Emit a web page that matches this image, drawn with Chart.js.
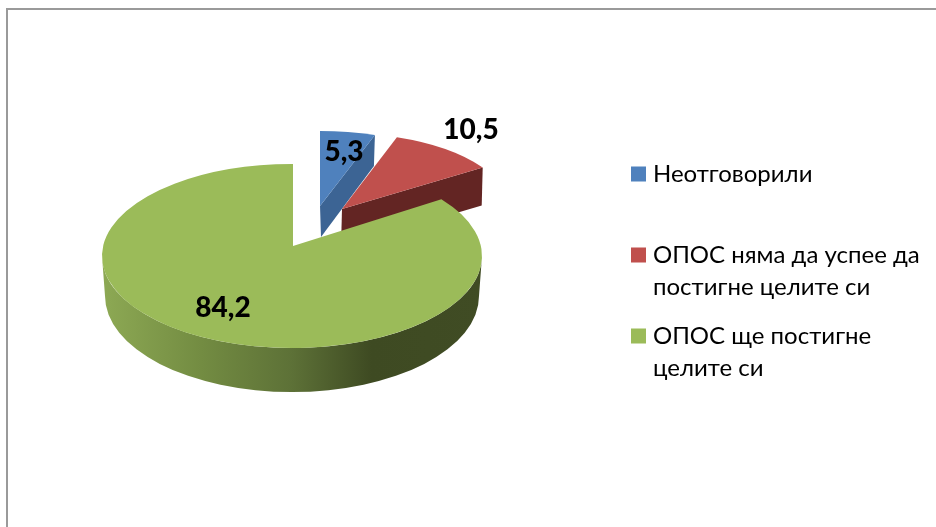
<!DOCTYPE html>
<html lang="bg">
<head>
<meta charset="utf-8">
<style>
html,body{margin:0;padding:0;background:#fff;overflow:hidden}
#frame{position:absolute;left:6px;top:8px;width:930px;height:519px;border-top:2px solid #9a9a9a;border-left:2px solid #9a9a9a;box-sizing:border-box}
canvas{position:absolute;left:0;top:0}
</style>
<script src="https://cdn.jsdelivr.net/npm/chart.js@4/dist/chart.umd.js"></script>
</head>
<body>
<div id="frame"></div>
<canvas id="c" width="936" height="527"></canvas>
<script>
const categories = [
  ['Неотговорили', ''],
  ['ОПОС няма да успее да', 'постигне целите си'],
  ['ОПОС ще постигне', 'целите си']
];
const values = [5.3, 10.5, 84.2];
const colors = ['#4F81BD', '#C0504D', '#9BBB59'];
const sideColors = ['#3C6494', '#632523', null];

const FONT = 'Lato, Carlito, "Open Sans", sans-serif';
const TILT = 92 / 190;
const PIE = {left: 102, right: 482, top: 66, bottom: 446};
const LEGEND = {left: 619, top: 145};
/* each slice: apex offset from the pie centre, ellipse centre offset, ellipse radii factor, depth, lean of the lower apex */
const SLICES = [
  {ax: 28, ay: -50, ex: 28, ey: -50, rx: 168 / 190, ry: 75 / 92, depth: 31, lean: 1},
  {ax: 50, ay: -47, ex: 50, ey: -47, rx: 168 / 190, ry: 76 / 92, depth: 38, lean: -1},
  {ax: 1, ay: -10, ex: 0, ey: 0, rx: 1, ry: 1, depth: 40, lean: 0}
];
const LABEL_POS = [{x: 52, y: -104}, {x: 179, y: -126}, {x: -69, y: 52}];

function rayPoint(ax, ay, cx, cy, rx, ry, angle) {
  // where the ray from the apex at the slice angle meets the rim ellipse
  const dx = Math.cos(angle) * rx, dy = Math.sin(angle) * ry;
  const ox = ax - cx, oy = ay - cy;
  const A = dx * dx / (rx * rx) + dy * dy / (ry * ry);
  const B = 2 * (ox * dx / (rx * rx) + oy * dy / (ry * ry));
  const C = ox * ox / (rx * rx) + oy * oy / (ry * ry) - 1;
  const t = (-B + Math.sqrt(B * B - 4 * A * C)) / (2 * A);
  return {x: ax + dx * t, y: ay + dy * t, theta: Math.atan2((ay + dy * t - cy) / ry, (ax + dx * t - cx) / rx)};
}

const pie3d = {
  id: 'pie3d',
  afterLayout(chart) {
    const w = PIE.right - PIE.left, h = PIE.bottom - PIE.top;
    Object.assign(chart.chartArea, PIE, {width: w, height: h});
    const lg = chart.legend;
    const lw = lg.width, lh = lg.height;
    lg.left = LEGEND.left; lg.right = LEGEND.left + lw;
    lg.top = LEGEND.top; lg.bottom = LEGEND.top + lh;
  },
  beforeDatasetDraw(chart, args) {
    const ctx = chart.ctx;
    const arcs = args.meta.data;
    arcs.forEach((arc, i) => {
      const s = SLICES[i];
      const R = arc.outerRadius;
      const ax = arc.x + s.ax, ay = arc.y + s.ay;
      const cx = arc.x + s.ex, cy = arc.y + s.ey;
      const rx = R * s.rx, ry = R * TILT * s.ry;
      const p0 = rayPoint(ax, ay, cx, cy, rx, ry, arc.startAngle);
      const p1 = rayPoint(ax, ay, cx, cy, rx, ry, arc.endAngle);
      ctx.save();
      if (sideColors[i]) {
        // cut face seen at the slice's end angle
        ctx.fillStyle = sideColors[i];
        ctx.beginPath();
        ctx.moveTo(ax, ay);
        ctx.lineTo(p1.x, p1.y);
        ctx.lineTo(p1.x - 1, p1.y + s.depth);
        ctx.lineTo(ax + s.lean, ay + s.depth);
        ctx.closePath();
        ctx.fill();
      } else {
        // curved front wall
        const g = ctx.createLinearGradient(cx - rx, 0, cx + rx, 0);
        g.addColorStop(0, '#8DA954');
        g.addColorStop(0.26, '#738C42');
        g.addColorStop(0.5, '#5D7137');
        g.addColorStop(0.71, '#3E4A22');
        g.addColorStop(1, '#404C24');
        ctx.fillStyle = g;
        ctx.beginPath();
        ctx.ellipse(cx, cy, rx, ry, 0, 0, Math.PI, false);
        ctx.ellipse(cx, cy + s.depth, rx - 3, ry + 4, 0, Math.PI, 0, true);
        ctx.closePath();
        ctx.fill();
      }
      ctx.fillStyle = arc.options.backgroundColor;
      ctx.beginPath();
      ctx.moveTo(ax, ay);
      ctx.lineTo(p0.x, p0.y);
      ctx.ellipse(cx, cy, rx, ry, 0, p0.theta, p1.theta, false);
      ctx.closePath();
      ctx.fill();
      ctx.restore();
    });
    return false;
  },
  afterDatasetsDraw(chart) {
    const ctx = chart.ctx;
    const arcs = chart.getDatasetMeta(0).data;
    ctx.save();
    ctx.font = '900 28px ' + FONT;
    ctx.fillStyle = '#000';
    ctx.textAlign = 'center';
    ctx.textBaseline = 'middle';
    arcs.forEach((arc, i) => {
      ctx.fillText(String(values[i]).replace('.', ','), arc.x + LABEL_POS[i].x, arc.y + LABEL_POS[i].y);
    });
    ctx.restore();
  }
};

new Chart(document.getElementById('c'), {
  type: 'pie',
  data: {
    labels: categories,
    datasets: [{data: values, backgroundColor: colors, borderWidth: 0}]
  },
  plugins: [pie3d],
  options: {
    responsive: false,
    animation: false,
    layout: {padding: 0},
    plugins: {
      tooltip: {enabled: false},
      legend: {
        display: true,
        position: 'right',
        align: 'start',
        labels: {
          boxWidth: 5,
          boxHeight: 5,
          padding: 17,
          color: '#000',
          font: {family: FONT, size: 24, lineHeight: 32 / 24},
          generateLabels: () => categories.map((text, i) => ({
            text,
            fillStyle: colors[i],
            strokeStyle: colors[i],
            lineWidth: 10,
            hidden: false,
            index: i
          }))
        }
      }
    }
  }
});
</script>
</body>
</html>
